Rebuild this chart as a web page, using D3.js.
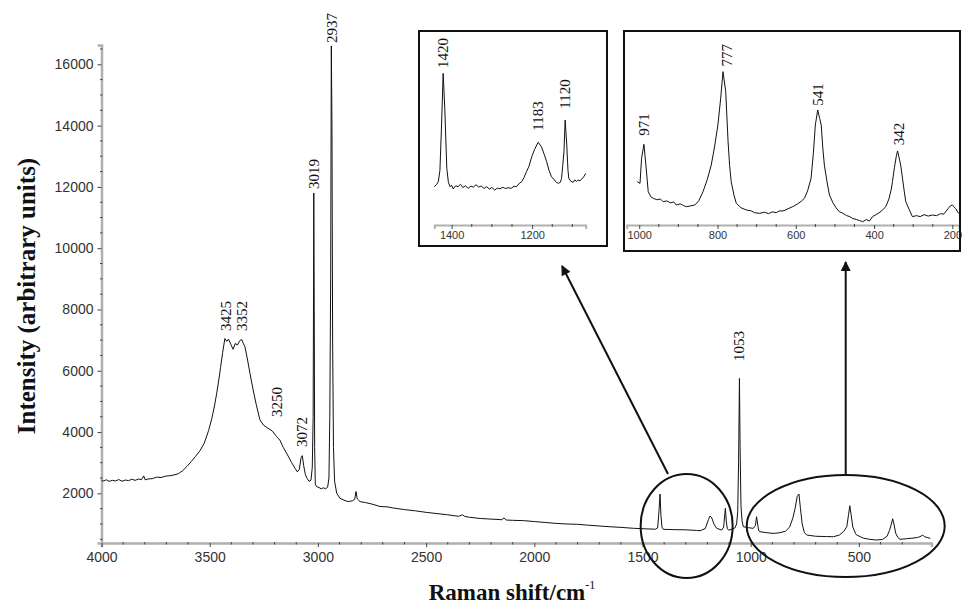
<!doctype html>
<html lang="en">
  <head>
    <meta charset="utf-8">
    <script src="https://d3js.org/d3.v7.min.js"></script>
    <title>Raman spectrum</title>
    <style>
      body { margin: 0; background: #fff; }
      .tick text { font: 14px "Liberation Sans", Arial, sans-serif; fill: #333; }
      .inset .tick text { font-size: 11px; }
      .spec { fill: none; stroke: #111; stroke-width: 1; stroke-linejoin: round; }
      .peak { font: 15px "Liberation Serif", "Times New Roman", serif; fill: #111; }
      .title { font: bold 25px "Liberation Serif", "Times New Roman", serif; fill: #111; }
    </style>
  </head>
  <body>
    <svg width="962" height="606"></svg>
    <script>
      // main spectrum: [wavenumber cm-1, intensity]
      const mainSpectrum = [
        [4000,2430],[3990,2400],[3978,2445],[3965,2390],[3950,2425],[3935,2405],[3920,2450],[3905,2395],
        [3890,2435],[3875,2415],[3860,2460],[3845,2425],[3830,2465],[3815,2450],[3805,2570],[3798,2440],
        [3785,2470],[3765,2480],[3745,2530],[3725,2515],[3705,2560],[3685,2575],[3665,2600],[3645,2640],
        [3625,2740],[3605,2880],[3585,3040],[3565,3210],[3545,3390],[3525,3640],[3505,4050],[3490,4450],
        [3478,4850],[3468,5250],[3458,5700],[3450,6100],[3440,6600],[3430,7050],[3421,6960],[3413,7030],
        [3402,6860],[3392,6700],[3382,6890],[3372,6840],[3361,6980],[3352,7020],[3345,6900],[3337,6780],
        [3325,6350],[3314,5920],[3300,5400],[3285,4900],[3268,4400],[3252,4230],[3232,4130],[3210,4030],
        [3192,3860],[3176,3740],[3160,3500],[3140,3250],[3122,3010],[3106,2820],[3095,2700],[3086,2780],
        [3078,3160],[3072,3230],[3066,2920],[3058,2610],[3050,2490],[3041,2390],[3032,2430],[3026,2850],
        [3022,4500],[3020,9000],[3019,11800],[3017,8000],[3015,3500],[3012,2300],[3006,2220],[2995,2190],
        [2985,2150],[2975,2180],[2965,2150],[2955,2200],[2949,2500],[2945,4500],[2941,9000],[2938,16600],
        [2935,14000],[2932,7000],[2928,3500],[2923,2400],[2913,2000],[2898,1840],[2880,1780],[2860,1730],
        [2840,1760],[2830,1800],[2824,2060],[2818,1820],[2805,1730],[2780,1700],[2750,1650],[2713,1570],
        [2680,1560],[2650,1520],[2600,1470],[2550,1430],[2500,1380],[2450,1340],[2400,1300],[2350,1250],
        [2332,1300],[2322,1250],[2300,1220],[2250,1180],[2200,1160],[2150,1140],[2140,1200],[2130,1130],
        [2100,1120],[2050,1110],[2000,1080],[1950,1050],[1900,1020],[1850,1000],[1800,990],[1750,960],
        [1700,935],[1650,910],[1600,890],[1542,860],[1480,840],[1440,830],[1430,870],[1424,1400],
        [1419,1977],[1415,1300],[1410,900],[1404,826],[1350,815],[1300,810],[1250,790],[1234,780],
        [1210,850],[1195,1150],[1188,1260],[1180,1200],[1170,1000],[1157,858],[1134,803],[1125,900],
        [1120,1300],[1117,1510],[1113,1100],[1108,850],[1103,802],[1085,830],[1073,870],[1065,1000],
        [1060,1400],[1056,3000],[1052,5750],[1049,3500],[1045,1600],[1040,1100],[1034,910],[1010,880],
        [988,858],[978,950],[973,1237],[968,1000],[963,780],[957,748],[930,720],[896,694],[870,710],
        [840,760],[820,900],[805,1200],[795,1500],[785,1900],[777,1977],[770,1500],[762,1000],[752,720],
        [741,640],[700,600],[650,590],[618,584],[590,640],[570,760],[556,910],[548,1300],[542,1596],
        [536,1300],[528,900],[515,680],[510,640],[480,540],[450,500],[418,476],[390,500],[370,600],
        [358,800],[350,1000],[344,1172],[338,1000],[330,700],[320,560],[310,499],[280,520],[250,540],
        [230,560],[218,584],[205,640],[198,590],[185,560],[170,532]
      ];
      const yTicks = [2000, 4000, 6000, 8000, 10000, 12000, 14000, 16000];
      const xTicks = [4000, 3500, 3000, 2500, 2000, 1500, 1000, 500];
      // peak labels: text, wavenumber of label, intensity at label centre
      const mainPeaks = [
        ["3425",3425,7790],["3352",3352,7790],["3250",3190,4980],["3072",3072,4000],
        ["3019",3019,12420],["2937",2937,17185],["1053",1053,6810]
      ];

      // inset 1 (1450-1060 cm-1)
      const inset1Spectrum = [
        [1443,836],[1437,860],[1433,886],[1429,1000],[1425,1455],[1421,1974],[1417,1623],[1412,1021],
        [1408,880],[1404,836],[1400,850],[1396,813],[1390,845],[1384,836],[1378,860],[1372,828],
        [1366,845],[1359,820],[1352,842],[1346,830],[1340,856],[1333,833],[1326,843],[1320,818],
        [1313,836],[1306,812],[1300,828],[1293,803],[1286,822],[1280,815],[1273,830],[1266,818],
        [1260,826],[1252,820],[1245,840],[1239,836],[1232,870],[1226,886],[1220,930],[1214,987],
        [1208,1040],[1201,1137],[1194,1210],[1185,1282],[1177,1237],[1170,1160],[1164,1087],[1158,1000],
        [1152,936],[1145,905],[1140,880],[1135,870],[1130,880],[1127,920],[1124,1050],[1121,1187],
        [1118,1505],[1114,1254],[1111,1000],[1109,920],[1104,890],[1098,880],[1094,905],[1090,888],
        [1086,903],[1081,895],[1077,913],[1072,935],[1067,970]
      ];
      const inset1Ticks = [1400, 1200];
      const inset1Peaks = [["1420",1421.5,2178],["1183",1186,1546],["1120",1119,1766]];

      // inset 2 (1000-180 cm-1)
      const inset2Spectrum = [
        [1005,856],[998,839],[994,1094],[988,1237],[983,1026],[977,754],[970,700],[964,687],[955,672],
        [946,680],[939,652],[930,660],[920,640],[912,650],[905,618],[895,630],[887,612],[879,601],
        [868,610],[858,618],[848,660],[837,754],[826,880],[816,1026],[808,1200],[799,1434],[792,1700],
        [786,1977],[779,1773],[773,1264],[769,1020],[765,856],[758,720],[752,636],[740,590],[726,567],
        [715,560],[705,540],[692,533],[680,545],[670,530],[660,548],[650,540],[642,557],[630,560],
        [620,580],[608,601],[595,630],[585,660],[578,687],[570,760],[561,890],[555,1150],[550,1434],
        [544,1587],[539,1500],[535,1434],[531,1200],[527,1026],[520,850],[514,720],[505,640],[497,590],
        [489,550],[480,535],[470,510],[462,500],[455,482],[445,470],[437,460],[429,448],[420,470],
        [412,455],[404,499],[395,520],[385,545],[378,570],[370,601],[362,680],[356,780],[353,856],
        [348,1000],[343,1120],[340,1169],[336,1100],[332,1026],[327,880],[323,760],[319,652],[310,570],
        [302,499],[292,510],[282,500],[272,520],[262,505],[251,516],[240,510],[230,530],[222,525],
        [217,550],[211,580],[205,610],[200,618],[196,600],[192,584],[186,545],[179,516]
      ];
      const inset2Ticks = [1000, 800, 600, 400, 200];
      const inset2Peaks = [["971",988,1439],["777",777,2144],["541",542,1745],["342",336,1342]];

      const svg = d3.select("svg");

      // ---- main chart ----
      const x = d3.scaleLinear().domain([4000, 165]).range([101.5, 931.4]);
      const y = d3.scaleLinear().domain([380, 16630]).range([543, 45]);

      const axisY = d3.axisLeft(y).tickValues(yTicks).tickSize(4).tickPadding(4).tickFormat(d3.format("d"));
      const axisX = d3.axisBottom(x).tickValues(xTicks).tickSize(4).tickPadding(5).tickFormat(d3.format("d"));

      function styleAxis(g) {
        g.select(".domain").attr("stroke", "#b0b0b0").attr("stroke-width", 2.5);
        g.selectAll(".tick line").attr("stroke", "#444").attr("stroke-width", 1);
      }

      // minor ticks on the y axis
      const gMinor = svg.append("g");
      svg.append("g").attr("transform", "translate(101.5,0)").call(axisY).call(styleAxis);
      svg.append("g").attr("transform", "translate(0,543)").call(axisX).call(styleAxis);

      gMinor.raise().selectAll("line")
        .data(d3.range(500, 16600, 500).filter(v => v % 2000 !== 0))
        .enter().append("line")
        .attr("x1", 100).attr("x2", 102.5)
        .attr("y1", d => y(d)).attr("y2", d => y(d))
        .attr("stroke", "#444");

      svg.append("g").selectAll("line")
        .data(d3.range(3900, 200, -100).filter(v => v % 500 !== 0))
        .enter().append("line")
        .attr("x1", d => x(d)).attr("x2", d => x(d))
        .attr("y1", 542).attr("y2", 544.5)
        .attr("stroke", "#444");

      const mainLine = d3.line().x(d => x(d[0])).y(d => y(d[1]));
      svg.append("path").datum(mainSpectrum).attr("class", "spec").attr("d", mainLine);

      function peakLabels(g, data, sx, sy) {
        g.selectAll("text.peak")
          .data(data)
          .enter().append("text")
          .attr("class", "peak")
          .attr("text-anchor", "middle")
          .attr("dominant-baseline", "central")
          .attr("transform", d => `translate(${sx(d[1])},${sy(d[2])}) rotate(-90)`)
          .text(d => d[0]);
      }
      peakLabels(svg, mainPeaks, x, y);

      // axis titles
      svg.append("text").attr("class", "title")
        .attr("text-anchor", "middle")
        .attr("transform", "translate(35,296) rotate(-90)")
        .text("Intensity (arbitrary units)");

      const xt = svg.append("text").attr("class", "title")
        .style("font-size", "23px")
        .attr("text-anchor", "middle")
        .attr("x", 512).attr("y", 600);
      xt.append("tspan").text("Raman shift/cm");
      xt.append("tspan").attr("dy", -11).style("font-size", "12px").style("font-weight", "normal").text("-1");

      // ---- insets ----
      function drawInset(box, data, sx, sy, ticks, minorStep, labels) {
        const g = svg.append("g").attr("class", "inset");
        const clipId = "clip" + Math.round(box.x);
        g.append("clipPath").attr("id", clipId)
          .append("rect").attr("x", box.x).attr("y", box.y).attr("width", box.w).attr("height", box.h);

        const axisG = g.append("g").attr("transform", `translate(0,${box.axisY})`)
          .call(d3.axisBottom(sx).tickValues(ticks).tickSize(4).tickPadding(2).tickFormat(d3.format("d")))
          .call(styleAxis);
        axisG.select(".domain").attr("stroke-width", 2);

        const [d0, d1] = sx.domain();
        g.append("g").selectAll("line")
          .data(d3.range(Math.floor(d0 / minorStep) * minorStep, d1, -minorStep).filter(v => ticks.indexOf(v) < 0))
          .enter().append("line")
          .attr("x1", d => sx(d)).attr("x2", d => sx(d))
          .attr("y1", box.axisY - 1).attr("y2", box.axisY + 2)
          .attr("stroke", "#444");

        g.append("path").datum(data).attr("class", "spec")
          .attr("clip-path", `url(#${clipId})`)
          .attr("d", d3.line().x(d => sx(d[0])).y(d => sy(d[1])));

        peakLabels(g, labels, sx, sy);

        g.append("rect").attr("x", box.x).attr("y", box.y).attr("width", box.w).attr("height", box.h)
          .attr("fill", "none").attr("stroke", "#111").attr("stroke-width", 2);
      }

      const ix1 = d3.scaleLinear().domain([1443, 1067]).range([434.3, 585.7]);
      const iy1 = d3.scaleLinear().domain([826, 1977]).range([187.7, 73]);
      drawInset({x: 419, y: 31, w: 188, h: 215, axisY: 225}, inset1Spectrum, ix1, iy1, inset1Ticks, 50, inset1Peaks);

      const ix2 = d3.scaleLinear().domain([1032, 183]).range([626.7, 959]);
      const iy2 = d3.scaleLinear().domain([1237, 1977]).range([144.3, 71.7]);
      drawInset({x: 624, y: 31, w: 336, h: 220, axisY: 225}, inset2Spectrum, ix2, iy2, inset2Ticks, 50, inset2Peaks);

      // ---- ellipses and arrows ----
      svg.append("defs").append("marker")
        .attr("id", "head").attr("viewBox", "0 0 10 10")
        .attr("refX", 9).attr("refY", 5)
        .attr("markerWidth", 6).attr("markerHeight", 5).attr("orient", "auto")
        .append("path").attr("d", "M0,0L10,5L0,10Z").attr("fill", "#111");

      const ellipses = [[1296, 46, 52], [561, 99, 51]];
      svg.append("g").selectAll("ellipse")
        .data(ellipses)
        .enter().append("ellipse")
        .attr("cx", d => x(d[0])).attr("cy", 526)
        .attr("rx", d => d[1]).attr("ry", d => d[2])
        .attr("fill", "none").attr("stroke", "#111").attr("stroke-width", 2);

      svg.append("line")
        .attr("x1", 668).attr("y1", 474).attr("x2", 562).attr("y2", 266)
        .attr("stroke", "#111").attr("stroke-width", 2).attr("marker-end", "url(#head)");
      svg.append("line")
        .attr("x1", x(561)).attr("y1", 475).attr("x2", x(561)).attr("y2", 262)
        .attr("stroke", "#111").attr("stroke-width", 2).attr("marker-end", "url(#head)");
    </script>
  </body>
</html>
